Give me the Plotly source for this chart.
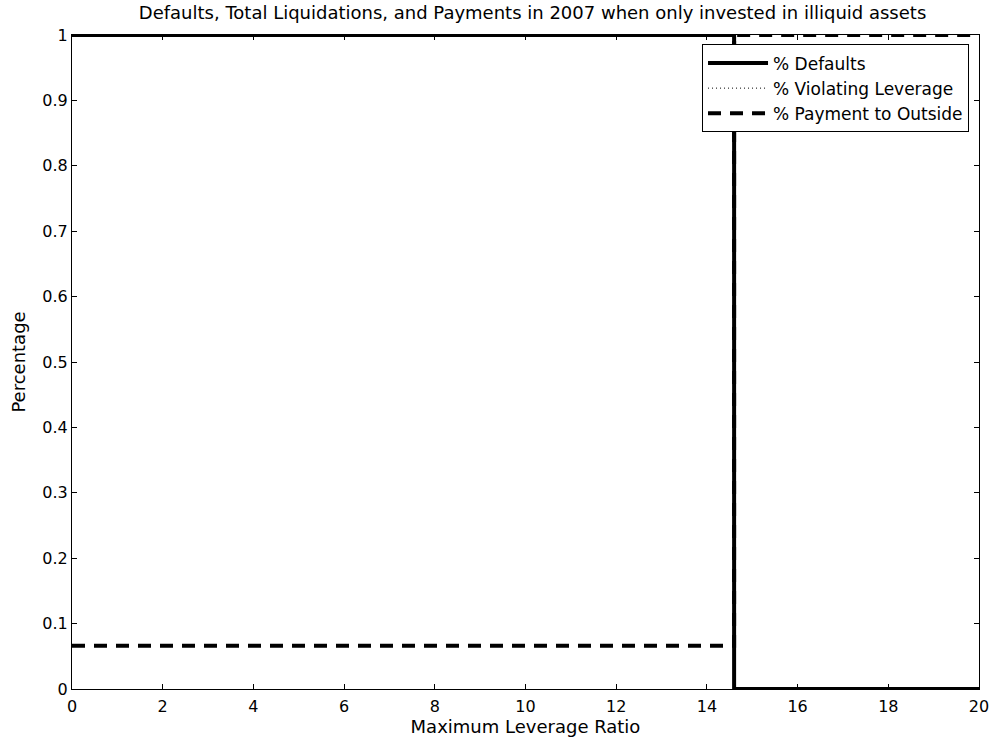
import plotly.graph_objects as go

leverage_ratio = [0, 14.6, 20]
pct_defaults = [1, 0, 0]
pct_violating = [1, 0, 0]
pct_payment = [0.066, 1, 1]

x_ticks = [0, 2, 4, 6, 8, 10, 12, 14, 16, 18, 20]
y_ticks = [0, 0.1, 0.2, 0.3, 0.4, 0.5, 0.6, 0.7, 0.8, 0.9, 1]
y_tick_text = ["0", "0.1", "0.2", "0.3", "0.4", "0.5", "0.6", "0.7", "0.8", "0.9", "1"]

fig = go.Figure()
fig.add_trace(go.Scatter(x=leverage_ratio, y=pct_defaults, mode="lines", line_shape="hv",
                         name="% Defaults", line=dict(color="black", width=4)))
fig.add_trace(go.Scatter(x=leverage_ratio, y=pct_violating, mode="lines", line_shape="hv",
                         name="% Violating Leverage", line=dict(color="black", width=1, dash="1px,3px")))
fig.add_trace(go.Scatter(x=leverage_ratio, y=pct_payment, mode="lines", line_shape="hv",
                         name="% Payment to Outside", line=dict(color="black", width=4, dash="13px,9px")))

font = "DejaVu Sans, Arial, sans-serif"
fig.update_layout(
    width=1001, height=742,
    margin=dict(l=72, r=15, t=35, b=52),
    paper_bgcolor="white", plot_bgcolor="white",
    font=dict(family=font, size=16, color="black"),
    title=dict(text="Defaults, Total Liquidations, and Payments in 2007 when only invested in illiquid assets",
               x=0.532, xanchor="center", y=0.9825, yanchor="middle", yref="container",
               font=dict(size=18)),
    showlegend=True,
    legend=dict(x=0.989, xanchor="right", y=0.9855, yanchor="top", bgcolor="white",
                bordercolor="black", borderwidth=1, font=dict(size=17), tracegroupgap=0,
                itemwidth=60),
)
fig.update_xaxes(range=[0, 20], tickvals=x_ticks, ticks="inside", ticklen=5, tickcolor="black",
                 showline=True, linecolor="black", linewidth=1, mirror="ticks", showgrid=False,
                 zeroline=False, tickfont=dict(size=16), ticklabelstandoff=3,
                 title=dict(text="Maximum Leverage Ratio", font=dict(size=18), standoff=1))
fig.update_yaxes(range=[0, 1], tickvals=y_ticks, ticktext=y_tick_text, ticks="inside", ticklen=5,
                 tickcolor="black", showline=True, linecolor="black", linewidth=1, mirror="ticks",
                 showgrid=False, zeroline=False, tickfont=dict(size=16),
                 title=dict(text="Percentage", font=dict(size=18), standoff=12))

fig.write_html("out.html")
